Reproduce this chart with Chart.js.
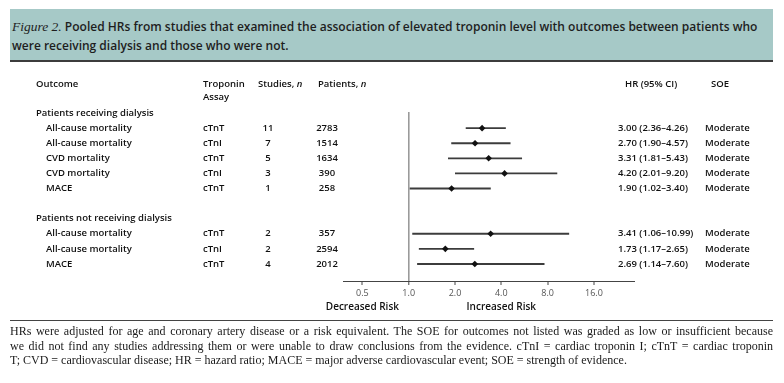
<!DOCTYPE html>
<html><head><meta charset="utf-8">
<script src="https://cdn.jsdelivr.net/npm/chart.js@4/dist/chart.umd.min.js"></script>
<style>
html,body{margin:0;padding:0;background:#fff;}
body{width:784px;height:383px;position:relative;overflow:hidden;}
#wrap{position:absolute;left:0;top:0;width:784px;height:383px;}
#title{position:absolute;left:10px;top:9px;width:763px;height:53px;background:#a6c9c7;border-bottom:2px solid #3c3c3c;box-sizing:border-box;padding:8px 0 0 2px;font-family:'Open Sans',sans-serif;font-weight:600;font-size:12px;line-height:19px;color:#1e1e1e;white-space:nowrap;}
#title i{font-family:'Liberation Serif',serif;font-weight:400;font-size:13.5px;}
#rule{position:absolute;left:10px;top:320px;width:763px;height:0;border-top:1.5px solid #444;}
#foot{position:absolute;left:10px;top:324px;width:763px;font-family:'Liberation Serif',serif;font-size:12px;line-height:14.6px;color:#1a1a1a;}
#foot div{white-space:nowrap;}
#foot .j{text-align:justify;text-align-last:justify;white-space:normal;}
</style></head>
<body>
<div id="wrap"><canvas id="c" width="784" height="383"></canvas></div>
<div id="title"><i>Figure 2.</i> Pooled HRs from studies that examined the association of elevated troponin level with outcomes between patients who<br>were receiving dialysis and those who were not.</div>
<div id="rule"></div>
<div id="foot">
<div class="j">HRs were adjusted for age and coronary artery disease or a risk equivalent. The SOE for outcomes not listed was graded as low or insufficient because</div>
<div class="j">we did not find any studies addressing them or were unable to draw conclusions from the evidence. cTnI = cardiac troponin I; cTnT = cardiac troponin</div>
<div>T; CVD = cardiovascular disease; HR = hazard ratio; MACE = major adverse cardiovascular event; SOE = strength of evidence.</div>
</div>
<script>
const groups = ['Patients receiving dialysis', 'Patients not receiving dialysis'];
const groupOf = [0, 0, 0, 0, 0, 1, 1, 1];
const outcomes = ['All-cause mortality', 'All-cause mortality', 'CVD mortality', 'CVD mortality', 'MACE', 'All-cause mortality', 'All-cause mortality', 'MACE'];
const assays = ['cTnT', 'cTnI', 'cTnT', 'cTnI', 'cTnT', 'cTnT', 'cTnI', 'cTnT'];
const studies = [11, 7, 5, 3, 1, 2, 2, 4];
const patients = [2783, 1514, 1634, 390, 258, 357, 2594, 2012];
const hr = [3.00, 2.70, 3.31, 4.20, 1.90, 3.41, 1.73, 2.69];
const ciLow = [2.36, 1.90, 1.81, 2.01, 1.02, 1.06, 1.17, 1.14];
const ciHigh = [4.26, 4.57, 5.43, 9.20, 3.40, 10.99, 2.65, 7.60];
const soe = ['Moderate', 'Moderate', 'Moderate', 'Moderate', 'Moderate', 'Moderate', 'Moderate', 'Moderate'];
const xTicks = [0.5, 1.0, 2.0, 4.0, 8.0, 16.0];

// row slots: group header, its rows, a blank slot between groups
const rowIndex = [];
const groupRow = [];
let slot = 0;
groups.forEach((g, gi) => {
  if (gi > 0) slot++;
  groupRow.push(slot++);
  groupOf.forEach((go, i) => { if (go === gi) rowIndex[i] = slot++; });
});

const FONT = "'Open Sans', sans-serif";
const INK = '#101010';

const tablePlugin = {
  id: 'table',
  afterDraw(chart) {
    const ctx = chart.ctx, y = chart.scales.y, x = chart.scales.x;
    ctx.save();
    ctx.fillStyle = INK;
    ctx.textBaseline = 'middle';
    const semi = '600 9.5px ' + FONT;
    const semiIt = 'italic 600 9.5px ' + FONT;
    const y0 = y.getPixelForValue(0);
    const hy1 = y0 - 29, hy2 = y0 - 16;
    ctx.font = semi; ctx.textAlign = 'left';
    ctx.fillText('Outcome', 36, hy1);
    ctx.fillText('Troponin', 203, hy1);
    ctx.fillText('Assay', 203, hy2);
    const lab = (t, it, px) => { ctx.font = semi; ctx.fillText(t, px, hy1); const w = ctx.measureText(t).width; ctx.font = semiIt; ctx.fillText(it, px + w, hy1); };
    lab('Studies, ', 'n', 258);
    lab('Patients, ', 'n', 318);
    ctx.font = semi;
    ctx.fillText('HR (95% CI)', 625, hy1);
    ctx.fillText('SOE', 711, hy1);
    groups.forEach((g, gi) => ctx.fillText(g, 36, y.getPixelForValue(groupRow[gi])));
    outcomes.forEach((o, i) => {
      const py = y.getPixelForValue(rowIndex[i]);
      ctx.textAlign = 'left';
      ctx.fillText(o, 46, py);
      ctx.fillText(assays[i], 203, py);
      ctx.textAlign = 'center';
      ctx.fillText(String(studies[i]), 268, py);
      ctx.fillText(String(patients[i]), 327, py);
      ctx.textAlign = 'left';
      ctx.fillText(hr[i].toFixed(2) + ' (' + ciLow[i].toFixed(2) + '\u2013' + ciHigh[i].toFixed(2) + ')', 618, py);
      ctx.fillText(soe[i], 705, py);
    });
    ctx.font = '600 10px ' + FONT;
    ctx.textAlign = 'center';
    const ly = chart.chartArea.bottom + 26;
    ctx.fillText('Decreased Risk', x.getPixelForValue(0.5), ly);
    ctx.fillText('Increased Risk', x.getPixelForValue(4), ly);
    ctx.restore();
  }
};

new Chart(document.getElementById('c'), {
  type: 'scatter',
  data: {
    datasets: [
      {
        type: 'bar',
        indexAxis: 'y',
        data: outcomes.map((o, i) => ({ x: [ciLow[i], ciHigh[i]], y: rowIndex[i] })),
        backgroundColor: '#3c3c3c',
        borderWidth: 0,
        barThickness: 1.2,
        order: 2
      },
      {
        type: 'scatter',
        data: outcomes.map((o, i) => ({ x: hr[i], y: rowIndex[i] })),
        pointStyle: 'rectRot',
        pointRadius: 3.3,
        backgroundColor: '#111',
        borderColor: '#111',
        borderWidth: 0,
        order: 1
      }
    ]
  },
  options: {
    responsive: false,
    animation: false,
    events: [],
    layout: { padding: { left: 343, right: 149, top: 112, bottom: 81.2 } },
    plugins: { legend: { display: false }, tooltip: { enabled: false }, title: { display: false } },
    scales: {
      x: {
        type: 'logarithmic',
        position: 'bottom',
        offset: false,
        min: 0.374,
        max: 29.6,
        afterBuildTicks: s => { s.ticks = xTicks.map(v => ({ value: v })); },
        ticks: {
          callback: v => Number(v).toFixed(1),
          font: { family: FONT, size: 9 },
          color: '#555',
          padding: 3,
          autoSkip: false,
          maxRotation: 0
        },
        grid: {
          offset: false,
          drawOnChartArea: true,
          color: c => (c.tick && c.tick.value === 1 ? '#9a9a9a' : 'rgba(0,0,0,0)'),
          lineWidth: c => (c.tick && c.tick.value === 1 ? 1.6 : 0),
          tickColor: '#444',
          tickLength: 4,
          tickWidth: 1
        },
        border: { display: true, color: '#444', width: 1 }
      },
      y: {
        type: 'linear',
        position: 'left',
        offset: false,
        reverse: true,
        min: -0.07,
        max: 11.13,
        display: false,
        grid: { offset: false }
      }
    }
  },
  plugins: [tablePlugin]
});
</script>
</body></html>
